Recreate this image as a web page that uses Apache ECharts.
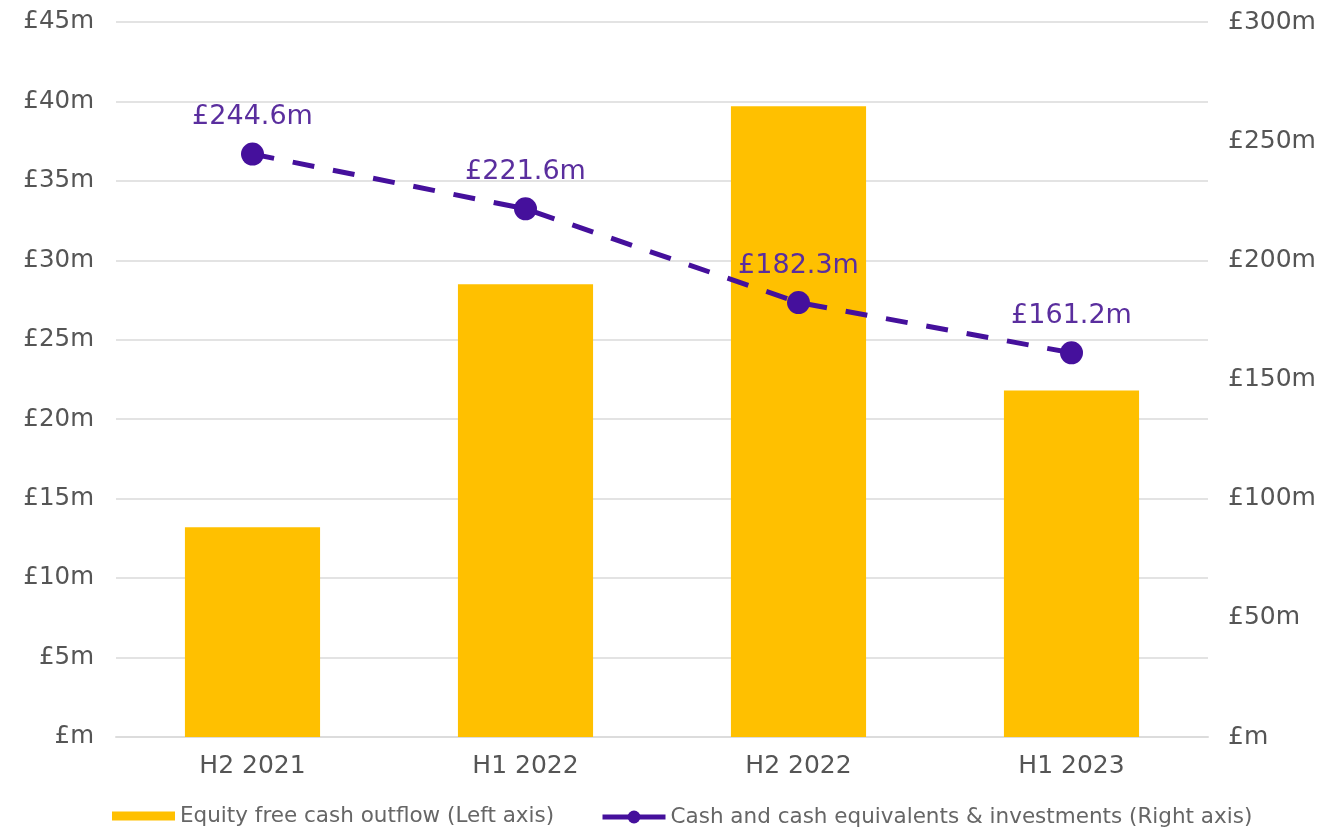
<!DOCTYPE html>
<html><head><meta charset="utf-8">
<script src="https://cdn.jsdelivr.net/npm/echarts@6/dist/echarts.min.js"></script>
<style>html,body{margin:0;padding:0;background:#fff}#c{width:1332px;height:827px}</style>
</head><body><div id="c"></div>
<script>
const categories = ['H2 2021', 'H1 2022', 'H2 2022', 'H1 2023'];
const equityFreeCashOutflow = [13.2, 28.5, 39.7, 21.8];
const cashAndInvestments = [244.6, 221.6, 182.3, 161.2];
const seriesNames = ['Equity free cash outflow (Left axis)', 'Cash and cash equivalents & investments (Right axis)'];

const font = '"DejaVu Sans", Lato, sans-serif';
const purple = '#45109c';
const chart = echarts.init(document.getElementById('c'));
chart.setOption({
  animation: false,
  textStyle: { fontFamily: font },
  grid: { left: 116, right: 124, top: 22, bottom: 90 },
  legend: [
    {
      left: 107, top: 800,
      itemWidth: 63, itemHeight: 9, itemGap: 8,
      textStyle: { fontSize: 21.5, color: '#666', fontFamily: font },
      data: [{ name: seriesNames[0], icon: 'rect' }]
    },
    {
      left: 595, top: 801,
      itemWidth: 63, itemHeight: 16, itemGap: 8,
      textStyle: { fontSize: 21.5, color: '#666', fontFamily: font },
      data: [{ name: seriesNames[1], lineStyle: { type: 'solid', width: 5 } }]
    }
  ],
  xAxis: {
    type: 'category', data: categories,
    axisLine: { show: true, lineStyle: { color: '#dcdcdc', width: 2 } },
    axisTick: { show: false },
    axisLabel: { fontSize: 25, color: '#555', margin: 17 }
  },
  yAxis: [
    {
      type: 'value', min: 0, max: 45, interval: 5,
      axisLabel: { fontSize: 24.5, color: '#555', margin: 22,
        formatter: v => v === 0 ? '£m' : '£' + v + 'm' },
      splitLine: { lineStyle: { color: '#e3e3e3', width: 2 } },
      axisLine: { show: false }, axisTick: { show: false }
    },
    {
      type: 'value', min: 0, max: 300, interval: 50,
      axisLabel: { fontSize: 25, color: '#555', margin: 20,
        formatter: v => v === 0 ? '£m' : '£' + v + 'm' },
      splitLine: { show: false },
      axisLine: { show: false }, axisTick: { show: false }
    }
  ],
  series: [
    {
      name: seriesNames[0], type: 'bar', data: equityFreeCashOutflow,
      barWidth: '49.5%', itemStyle: { color: '#ffc000' }, yAxisIndex: 0
    },
    {
      name: seriesNames[1], type: 'line', data: cashAndInvestments, yAxisIndex: 1,
      symbol: 'circle', symbolSize: 23,
      lineStyle: { color: purple, width: 5, type: [22, 19] },
      itemStyle: { color: purple },
      label: { show: true, position: 'top', distance: 12, fontSize: 27, color: '#5a2e9e',
        formatter: p => '£' + p.value.toFixed(1) + 'm' }
    }
  ]
});
</script></body></html>
